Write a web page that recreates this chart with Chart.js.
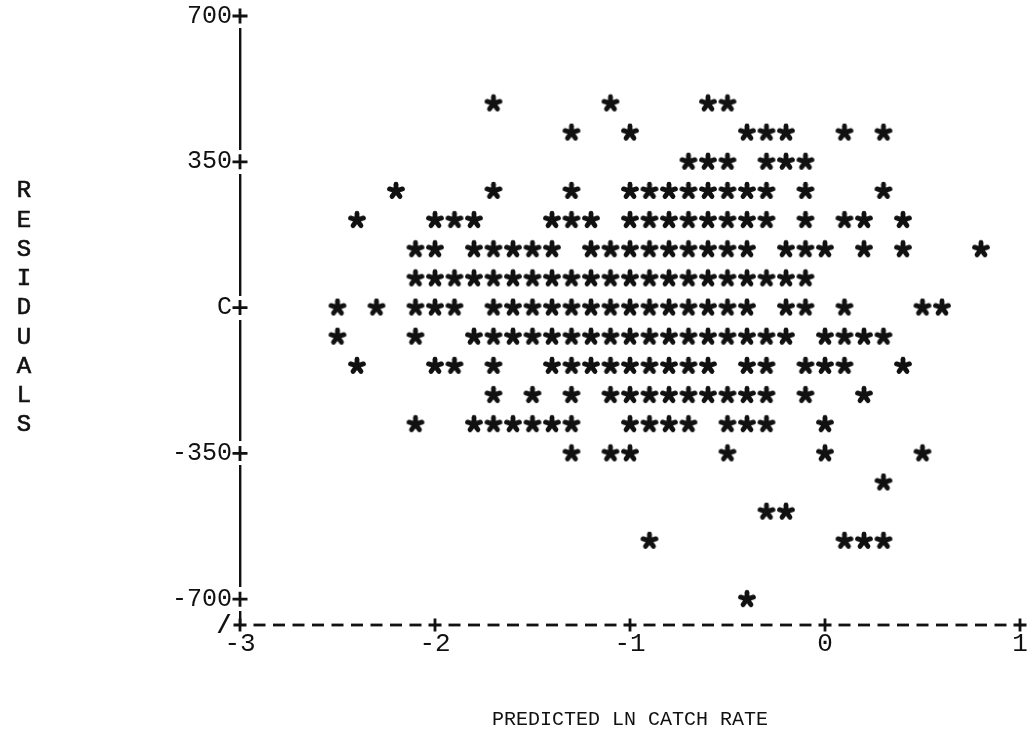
<!DOCTYPE html>
<html>
<head>
<meta charset="utf-8">
<title>Residuals vs predicted ln catch rate</title>
<script src="https://cdn.jsdelivr.net/npm/chart.js@4.4.1/dist/chart.umd.min.js"></script>
<style>
  html, body { margin: 0; padding: 0; background: #fff; }
  canvas { display: block; }
</style>
</head>
<body>
<canvas id="residualPlot" width="1031" height="735"></canvas>
<script>
// Printer-plot rows: each residual level and the predicted values plotted on that row
const residualLevels = [490, 420, 350, 280, 210, 140, 70, 0, -70, -140, -210, -280, -350, -420, -490, -560, -700];
const predictedByRow = [
    [-1.7, -1.1, -0.6, -0.5],
    [-1.3, -1.0, -0.4, -0.3, -0.2, 0.1, 0.3],
    [-0.7, -0.6, -0.5, -0.3, -0.2, -0.1],
    [-2.2, -1.7, -1.3, -1.0, -0.9, -0.8, -0.7, -0.6, -0.5, -0.4, -0.3, -0.1, 0.3],
    [-2.4, -2.0, -1.9, -1.8, -1.4, -1.3, -1.2, -1.0, -0.9, -0.8, -0.7, -0.6, -0.5, -0.4, -0.3, -0.1, 0.1, 0.2, 0.4],
    [-2.1, -2.0, -1.8, -1.7, -1.6, -1.5, -1.4, -1.2, -1.1, -1.0, -0.9, -0.8, -0.7, -0.6, -0.5, -0.4, -0.2, -0.1, 0.0, 0.2, 0.4, 0.8],
    [-2.1, -2.0, -1.9, -1.8, -1.7, -1.6, -1.5, -1.4, -1.3, -1.2, -1.1, -1.0, -0.9, -0.8, -0.7, -0.6, -0.5, -0.4, -0.3, -0.2, -0.1],
    [-2.5, -2.3, -2.1, -2.0, -1.9, -1.7, -1.6, -1.5, -1.4, -1.3, -1.2, -1.1, -1.0, -0.9, -0.8, -0.7, -0.6, -0.5, -0.4, -0.2, -0.1, 0.1, 0.5, 0.6],
    [-2.5, -2.1, -1.8, -1.7, -1.6, -1.5, -1.4, -1.3, -1.2, -1.1, -1.0, -0.9, -0.8, -0.7, -0.6, -0.5, -0.4, -0.3, -0.2, 0.0, 0.1, 0.2, 0.3],
    [-2.4, -2.0, -1.9, -1.7, -1.4, -1.3, -1.2, -1.1, -1.0, -0.9, -0.8, -0.7, -0.6, -0.4, -0.3, -0.1, 0.0, 0.1, 0.4],
    [-1.7, -1.5, -1.3, -1.1, -1.0, -0.9, -0.8, -0.7, -0.6, -0.5, -0.4, -0.3, -0.1, 0.2],
    [-2.1, -1.8, -1.7, -1.6, -1.5, -1.4, -1.3, -1.0, -0.9, -0.8, -0.7, -0.5, -0.4, -0.3, 0.0],
    [-1.3, -1.1, -1.0, -0.5, 0.0, 0.5],
    [0.3],
    [-0.3, -0.2],
    [-0.9, 0.1, 0.2, 0.3],
    [-0.4]
];

const xTickValues = [-3, -2, -1, 0, 1];
const xTickLabels = ['-3', '-2', '-1', '0', '1'];
const yTickValues = [700, 350, 0, -350, -700];
const yTickLabels = ['700', '350', 'C', '-350', '-700'];

const ink = '#111';
const mono = '"Liberation Mono", "DejaVu Sans Mono", monospace';

// flatten rows into scatter points
const points = [];
residualLevels.forEach((level, i) => {
    predictedByRow[i].forEach(p => points.push({ x: p, y: level }));
});

// bold five-armed asterisk used as the plotting symbol
function makeAsterisk() {
    const c = document.createElement('canvas');
    c.width = 20;
    c.height = 20;
    const g = c.getContext('2d');
    g.strokeStyle = ink;
    g.fillStyle = ink;
    g.lineWidth = 4.8;
    g.lineCap = 'round';
    for (let k = 0; k < 5; k++) {
        const a = -Math.PI / 2 + k * 2 * Math.PI / 5;
        g.beginPath();
        g.moveTo(10, 10);
        g.lineTo(10 + 6.8 * Math.cos(a), 10 + 6.8 * Math.sin(a));
        g.stroke();
    }
    g.beginPath();
    g.arc(10, 10, 4, 0, Math.PI * 2);
    g.fill();
    return c;
}

// '+' marks drawn as two strokes
function plus(ctx, px, py, r) {
    ctx.beginPath();
    ctx.moveTo(px - r, py);
    ctx.lineTo(px + r, py);
    ctx.moveTo(px, py - r);
    ctx.lineTo(px, py + r);
    ctx.stroke();
}

// dashed x axis with '+' ticks, '+' on the y axis, the '/' break mark and the stacked y title
const printerAxes = {
    id: 'printerAxes',
    afterDraw(chart) {
        const { ctx, chartArea } = chart;
        const x = chart.scales.x;
        const y = chart.scales.y;
        const axisY = chartArea.bottom;
        ctx.save();
        ctx.strokeStyle = ink;
        ctx.fillStyle = ink;
        ctx.lineWidth = 2.8;
        for (let i = 1; i < 40; i++) {
            if (i % 10 === 0) continue;
            const px = x.getPixelForValue(-3 + i / 10);
            ctx.beginPath();
            ctx.moveTo(px - 6, axisY);
            ctx.lineTo(px + 6, axisY);
            ctx.stroke();
        }
        xTickValues.forEach(v => plus(ctx, x.getPixelForValue(v), axisY, 6.5));

        // clear a little of the y axis around each '+'
        yTickValues.forEach(v => {
            const py = y.getPixelForValue(v);
            ctx.clearRect(chartArea.left - 2, py - 12, 4, 24);
            plus(ctx, chartArea.left, py, 7.5);
        });

        ctx.font = 'bold 25px ' + mono;
        ctx.textAlign = 'center';
        ctx.textBaseline = 'middle';
        ctx.fillText('/', x.getPixelForValue(-3) - 16, axisY + 2);

        ctx.font = '24px ' + mono;
        ctx.lineWidth = 0.6;
        'RESIDUALS'.split('').forEach((ch, i) => {
            ctx.fillText(ch, 24, 191 + i * 29.25);
            ctx.strokeText(ch, 24, 191 + i * 29.25);
        });
        ctx.restore();
    }
};

new Chart(document.getElementById('residualPlot').getContext('2d'), {
    type: 'scatter',
    data: {
        datasets: [{
            data: points,
            pointStyle: makeAsterisk(),
            pointRadius: 10,
            clip: false
        }]
    },
    plugins: [printerAxes],
    options: {
        responsive: false,
        animation: false,
        layout: { padding: { top: 16, right: 9, left: 0, bottom: 0 } },
        plugins: {
            legend: { display: false },
            tooltip: { enabled: false }
        },
        scales: {
            x: {
                type: 'linear',
                min: -3,
                max: 1,
                afterFit: s => {
                    s.height = 110;
                    s.paddingLeft = 0;
                    s.paddingRight = 0;
                },
                afterBuildTicks: s => { s.ticks = xTickValues.map(v => ({ value: v })); },
                grid: { display: false, drawTicks: false },
                border: { display: false },
                ticks: {
                    color: ink,
                    padding: 4,
                    maxRotation: 0,
                    font: { family: mono, size: 26 },
                    callback: v => xTickLabels[xTickValues.indexOf(v)]
                },
                title: {
                    display: true,
                    text: 'PREDICTED LN CATCH RATE',
                    color: ink,
                    font: { family: mono, size: 20 },
                    padding: { top: 0, bottom: 3 }
                }
            },
            y: {
                type: 'linear',
                min: -762,
                max: 700,
                afterFit: s => {
                    s.width = 240;
                    s.paddingTop = 0;
                    s.paddingBottom = 0;
                },
                afterBuildTicks: s => { s.ticks = yTickValues.map(v => ({ value: v })); },
                grid: { display: false, drawTicks: false },
                border: { display: true, color: ink, width: 2.4 },
                ticks: {
                    color: ink,
                    padding: 8,
                    font: { family: mono, size: 25 },
                    callback: v => yTickLabels[yTickValues.indexOf(v)]
                }
            }
        }
    }
});
</script>
</body>
</html>
